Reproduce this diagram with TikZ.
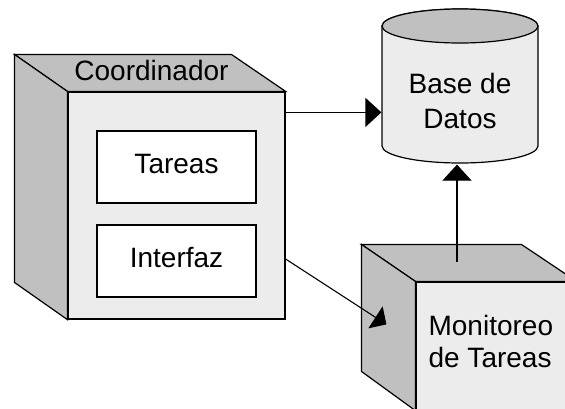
\documentclass[tikz,border=0pt]{standalone}
\usepackage{fontspec}
\setmainfont{Liberation Sans}
\usetikzlibrary{arrows.meta}
\definecolor{sidegray}{RGB}{192,192,192}
\definecolor{frontgray}{RGB}{236,236,236}
\begin{document}
\begin{tikzpicture}[x=1pt,y=-1pt,line width=1.2pt,line join=miter,
  sideface/.style={fill=sidegray,draw=black},
  frontface/.style={rectangle,fill=frontgray,draw=black,inner sep=0pt},
  innerbox/.style={rectangle,fill=white,draw=black,inner sep=0pt,
    minimum width=159pt,minimum height=72pt,
    font=\fontsize{28}{34}\selectfont,text height=20pt,text depth=8pt},
  lbl/.style={inner sep=0pt},
  bigfont/.style={font=\fontsize{28}{35}\selectfont},
  arr/.style={-{Triangle[length=16pt,width=29pt]},line width=1.2pt},
  arrsmall/.style={-{Triangle[length=13pt,width=26pt]},line width=1.1pt}]
\useasboundingbox (0,0) rectangle (565,408);
\fill[white] (0,0) rectangle (565,408);

% Coordinador node: front face, then top and left faces
\node[frontface,minimum width=217pt,minimum height=227pt] (coord) at (176.5,205.5) {};
\draw[sideface] (coord.north west) -- ++(-53,-37) -- ++(217,0) -- (coord.north east) -- cycle;
\draw[sideface] (coord.north west) -- ++(-53,-37) -- ++(0,228) -- (coord.south west) -- cycle;
\node[lbl,bigfont,anchor=base] (coordlbl) at (151.5,80) {Coordinador};
\node[innerbox] (tareas) at (176.5,167) {Tareas};
\node[innerbox] (interfaz) at (176.5,261) {Interfaz};

% Database cylinder
\node[rectangle,inner sep=0pt,minimum width=156pt,minimum height=138pt] (db) at (460,95) {};
\filldraw[fill=frontgray] (382,26) -- (382,146)
  arc[start angle=180,end angle=360,x radius=78pt,y radius=17pt]
  -- (538,26)
  arc[start angle=0,end angle=180,x radius=78pt,y radius=17pt] -- cycle;
\filldraw[fill=sidegray] (460,26) ellipse[x radius=78pt,y radius=17pt];
\node[lbl,bigfont,align=center,anchor=north] (dblbl) at (460,72.7) {Base de\\Datos};

% Monitoreo node: front face, then top and left faces
\node[frontface,minimum width=160pt,minimum height=128pt] (mon) at (496,346) {};
\draw[sideface] (mon.north west) -- ++(-54,-37) -- ++(160,0) -- (mon.north east) -- cycle;
\draw[sideface] (mon.north west) -- ++(-54,-37) -- ++(0,127) -- (mon.south west) -- cycle;
\node[lbl,font=\fontsize{28}{32}\selectfont,align=left,anchor=north west] (monlbl) at (428,314.7) {Monitoreo\\de Tareas};

% Connectors
\coordinate (c1) at ([yshift=-21pt]coord.north east);
\draw[arr] (c1) -- (c1 -| db.west);
\coordinate (m1) at (457,262);
\draw[arr] (m1) -- (m1 |- db.south);
\coordinate (c3) at ([yshift=-53.5pt]coord.east);
\coordinate (m3) at ([xshift=-29pt,yshift=-43pt]mon.north west);
\draw[arrsmall] (c3) -- (m3);
\end{tikzpicture}
\end{document}
